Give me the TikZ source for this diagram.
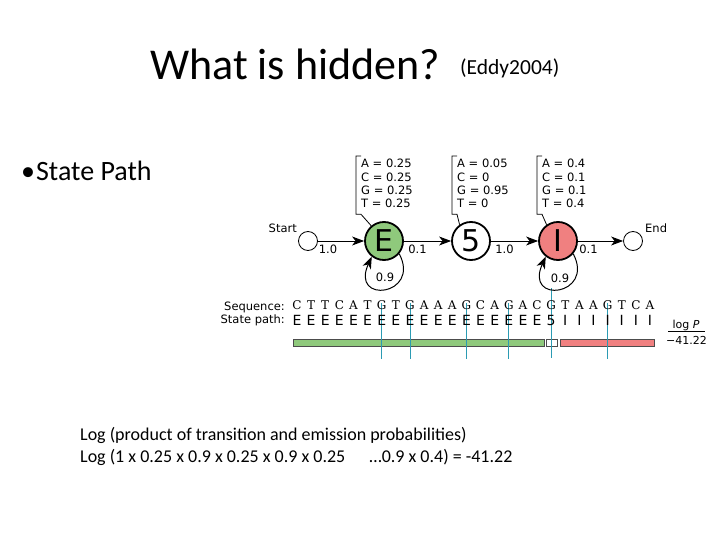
\documentclass[tikz,border=0pt]{standalone}
\usepackage{fontspec}
\setmainfont{Carlito}
\newfontfamily\figfont{DejaVu Sans}
\newfontfamily\seqfont{DejaVu Serif}
\usetikzlibrary{arrows.meta,backgrounds}
\definecolor{exonGreen}{HTML}{8FC97C}
\definecolor{intronRed}{HTML}{F08080}
\definecolor{siteTeal}{HTML}{2B9BB3}

\begin{document}
\begin{tikzpicture}[x=1pt, y=-1pt,
  state/.style={circle, draw, line width=1.8pt, minimum size=38pt, inner sep=0pt, font=\figfont\fontsize{30}{30}\selectfont},
  endpt/.style={circle, draw, line width=0.8pt, minimum size=19pt, inner sep=0pt},
  trans/.style={line width=1pt, -{Stealth[length=12pt,width=9pt,inset=3.5pt]}},
  emis/.style={anchor=north west, align=left, inner xsep=5pt, inner ysep=3pt, font=\figfont\fontsize{11.5}{13.4}\selectfont},
  bracket/.style={line width=0.8pt},
  lbl/.style={inner sep=0pt, font=\figfont\fontsize{11.5}{13}\selectfont},
  seqch/.style={anchor=base, inner sep=0pt, font=\seqfont\fontsize{12}{12}\selectfont},
  pathch/.style={anchor=base, inner sep=0pt, font=\figfont\fontsize{14}{14}\selectfont},
  bar/.style={draw=black!70, line width=0.8pt},
  siteline/.style={draw=siteTeal, line width=0.9pt}]
  \useasboundingbox (0,0) rectangle (720,540);

  \node[anchor=base west, inner sep=0pt, font=\fontsize{44}{44}\selectfont] (title) at (150,80) {What is hidden?};
  \node[anchor=base west, inner sep=0pt, font=\fontsize{21.5}{22}\selectfont] (cite) at (460,75) {(Eddy2004)};
  \node[anchor=base west, inner sep=0pt, font=\fontsize{28}{28}\selectfont] (bullet) at (21,181) {•\hspace{1pt}State Path};

  \node[state, fill=exonGreen] (E) at (384,241) {E};
  \node[state] (five) at (471,241) {5};
  \node[state, fill=intronRed] (I) at (558,241) {I};
  \node[endpt] (start) at (308,241) {};
  \node[endpt] (end) at (633,241) {};
  \node[lbl, anchor=base east] (startlbl) at (297,233) {Start};
  \node[lbl, anchor=base west] (endlbl) at (645,233) {End};

  \draw[trans] (start) -- (E);
  \draw[trans] (E) -- (five);
  \draw[trans] (five) -- (I);
  \draw[trans] (I) -- (end);
  \draw[trans] (E.-40) .. controls +(22,42) and +(-22,48) .. (E.-128);
  \draw[trans] (I.-40) .. controls +(22,42) and +(-22,48) .. (I.-128);

  \node[lbl, anchor=base] (tSE) at (328,254) {1.0};
  \node[lbl, anchor=base] (tE5) at (417.5,254) {0.1};
  \node[lbl, anchor=base] (t5I) at (504.5,254) {1.0};
  \node[lbl, anchor=base] (tIend) at (588.5,254) {0.1};
  \node[lbl, anchor=base] (tEE) at (385,281) {0.9};
  \node[lbl, anchor=base] (tII) at (560,282) {0.9};

  \node[emis] (eE) at (356,156) {A = 0.25\\C = 0.25\\G = 0.25\\T = 0.25};
  \node[emis] (e5) at (452,156) {A = 0.05\\C = 0\\G = 0.95\\T = 0};
  \node[emis] (eI) at (537,156) {A = 0.4\\C = 0.1\\G = 0.1\\T = 0.4};
  \draw[bracket] ([xshift=5pt]eE.north west) -- (eE.north west) -- ([yshift=-3pt]eE.south west) -- ++(5,0) -- (E.130);
  \draw[bracket] ([xshift=5pt]e5.north west) -- (e5.north west) -- ([yshift=-3pt]e5.south west) -- ++(5,0) -- (five.125);
  \draw[bracket] ([xshift=5pt]eI.north west) -- (eI.north west) -- ([yshift=-3pt]eI.south west) -- ++(5,0) -- (I.125);

  \node[lbl, anchor=base east] (seqlbl) at (285,310.5) {Sequence:};
  \node[lbl, anchor=base east] (pathlbl) at (285,323.5) {State path:};
  \foreach \ch [count=\i from 0] in {C,T,T,C,A,T,G,T,G,A,A,A,G,C,A,G,A,C,G,T,A,A,G,T,C,A}
    \node[seqch] (s\i) at ({297+14.12*\i},309.5) {\ch};
  \foreach \st [count=\i from 0] in {E,E,E,E,E,E,E,E,E,E,E,E,E,E,E,E,E,E,5,I,I,I,I,I,I,I}
    \node[pathch] (p\i) at ({297+14.12*\i},325.5) {\st};

  \node[lbl, anchor=base, font=\figfont\fontsize{11}{11}\selectfont] (logp) at (686,328.5) {log \textit{P}};
  \draw[line width=1pt] (668,331.5) -- (705,331.5);
  \node[lbl, anchor=base, font=\figfont\fontsize{11}{11}\selectfont] (logval) at (686.5,344.3) {−41.22};

  \node[anchor=base west, inner sep=0pt, font=\fontsize{18}{22}\selectfont] (formulaA) at (80,440) {Log (product of transition and emission probabilities)};
  \node[anchor=base west, inner sep=0pt, font=\fontsize{18}{22}\selectfont] (formulaB) at (80,462) {Log (1 x 0.25 x 0.9 x 0.25 x 0.9 x 0.25\hspace{24pt}…0.9 x 0.4) = -41.22};

  \begin{scope}[on background layer]
    \fill[white] (0,0) rectangle (720,540);
    \draw[bar, fill=exonGreen] (293,339) rectangle (544,346);
    \draw[bar, fill=white] (546,339) rectangle (557,346);
    \draw[bar, fill=intronRed] (560,339) rectangle (654,346);
    \foreach \i in {6,8,12,15,22}
      \draw[siteline] ([yshift=-2.5pt]s\i.north) -- ++(0,56);
    \draw[siteline] ([yshift=12pt]s18.north) -- ++(0,70);
  \end{scope}
\end{tikzpicture}
\end{document}
